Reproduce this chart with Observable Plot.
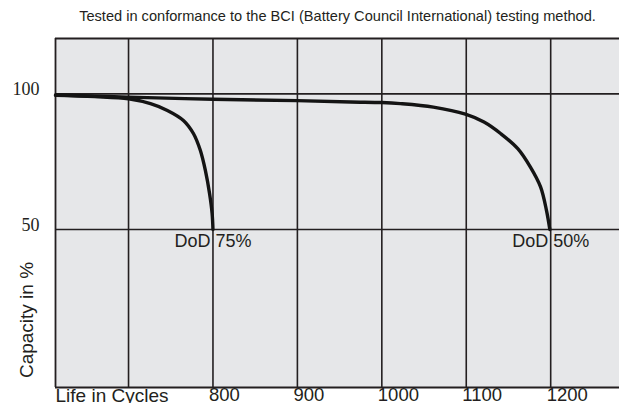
<!DOCTYPE html>
<html>
<head>
<meta charset="utf-8">
<script src="https://cdn.jsdelivr.net/npm/d3@7"></script>
<script src="https://cdn.jsdelivr.net/npm/@observablehq/plot@0.6"></script>
<style>
  html, body { margin: 0; padding: 0; background: #ffffff; }
  #chart svg { display: block; }
</style>
</head>
<body>
<div id="chart"></div>
<script>
// ---- data ----
const titleText = "Tested in conformance to the BCI (Battery Council International) testing method.";
const xLabel = "Life in Cycles";
const yLabel = "Capacity in %";

const xDomain = [613.5, 1281.5];
const yDomain = [-8.2, 120.4];

const xGrid = [700, 800, 900, 1000, 1100, 1200];
const xTickLabels = [800, 900, 1000, 1100, 1200];
const yGrid = [50, 100];
const yTickLabels = [50, 100];

const dod75Cycles = [613.5, 660, 700, 726, 746, 765, 777, 785, 791, 796, 799, 800];
const dod75Capacity = [99.5, 99.0, 98.2, 96.4, 93.9, 90.2, 85.3, 79.2, 71.8, 63.2, 55.9, 50];

const dod50Cycles = [613.5, 700, 800, 900, 963, 1000, 1022, 1061, 1099, 1121, 1141, 1161, 1176, 1188, 1195, 1199];
const dod50Capacity = [99.6, 98.8, 98.0, 97.5, 97.0, 96.8, 96.4, 95.1, 92.5, 89.6, 85.3, 79.8, 73.0, 65.7, 57.1, 50];

const seriesNames = ["DoD 75%", "DoD 50%"];
const seriesEnd = [800, 1200];
const seriesEndCapacity = [50, 50];

// ---- tables built from the arrays ----
const dod75 = dod75Cycles.map((c, i) => ({cycles: c, capacity: dod75Capacity[i]}));
const dod50 = dod50Cycles.map((c, i) => ({cycles: c, capacity: dod50Capacity[i]}));
const endLabels = seriesNames.map((n, i) => ({name: n, cycles: seriesEnd[i], capacity: seriesEndCapacity[i]}));

const ink = "#231f20";
const sans = "'Liberation Sans', Arial, Helvetica, sans-serif";

const chart = Plot.plot({
  width: 619,
  height: 403,
  marginTop: 38,
  marginBottom: 16,
  marginLeft: 55,
  marginRight: 0,
  x: {domain: xDomain, axis: null},
  y: {domain: yDomain, axis: null},
  style: {background: "#ffffff", fontFamily: sans},
  marks: [
    Plot.frame({fill: "#e6e7e9", stroke: null}),
    Plot.ruleX(xGrid, {stroke: ink, strokeWidth: 1.6}),
    Plot.ruleY(yGrid, {stroke: ink, strokeWidth: 1.6}),
    // frame: top, bottom, left
    Plot.ruleY([yDomain[0], yDomain[1]], {stroke: ink, strokeWidth: 1.8}),
    Plot.ruleX([xDomain[0]], {stroke: ink, strokeWidth: 1.8}),
    Plot.line(dod50, {x: "cycles", y: "capacity", stroke: "#141414", strokeWidth: 3.4, curve: "catmull-rom"}),
    Plot.line(dod75, {x: "cycles", y: "capacity", stroke: "#141414", strokeWidth: 3.4, curve: "catmull-rom"}),
    Plot.text(endLabels, {x: "cycles", y: "capacity", text: "name", fill: ink, fontSize: 18, lineAnchor: "bottom", dy: 17, textAnchor: "middle"}),
    // x tick labels
    Plot.text(xTickLabels, {x: d => d, frameAnchor: "bottom", text: d => String(d), fill: ink, fontSize: 18.5, textAnchor: "start", lineAnchor: "top", dx: -4, dy: 0.5}),
    Plot.text([xLabel], {frameAnchor: "bottom-left", text: d => d, fill: ink, fontSize: 19, textAnchor: "start", lineAnchor: "top", dy: 0.5}),
    // y tick labels (serif)
    Plot.text(yTickLabels, {y: d => d, frameAnchor: "left", text: d => String(d), fill: ink, fontSize: 18, fontFamily: "'Liberation Serif', 'Times New Roman', serif", textAnchor: "end", lineAnchor: "bottom", dx: -16, dy: 1}),
    // y axis title
    Plot.text([yLabel], {frameAnchor: "left", text: d => d, fill: ink, fontSize: 19, rotate: -90, textAnchor: "middle", lineAnchor: "bottom", dx: -23, dy: 107}),
    // title
    Plot.text([titleText], {frameAnchor: "top", text: d => d, fill: ink, fontSize: 14.6, textAnchor: "middle", lineAnchor: "bottom", dy: -18})
  ]
});

document.getElementById("chart").appendChild(chart);
</script>
</body>
</html>
